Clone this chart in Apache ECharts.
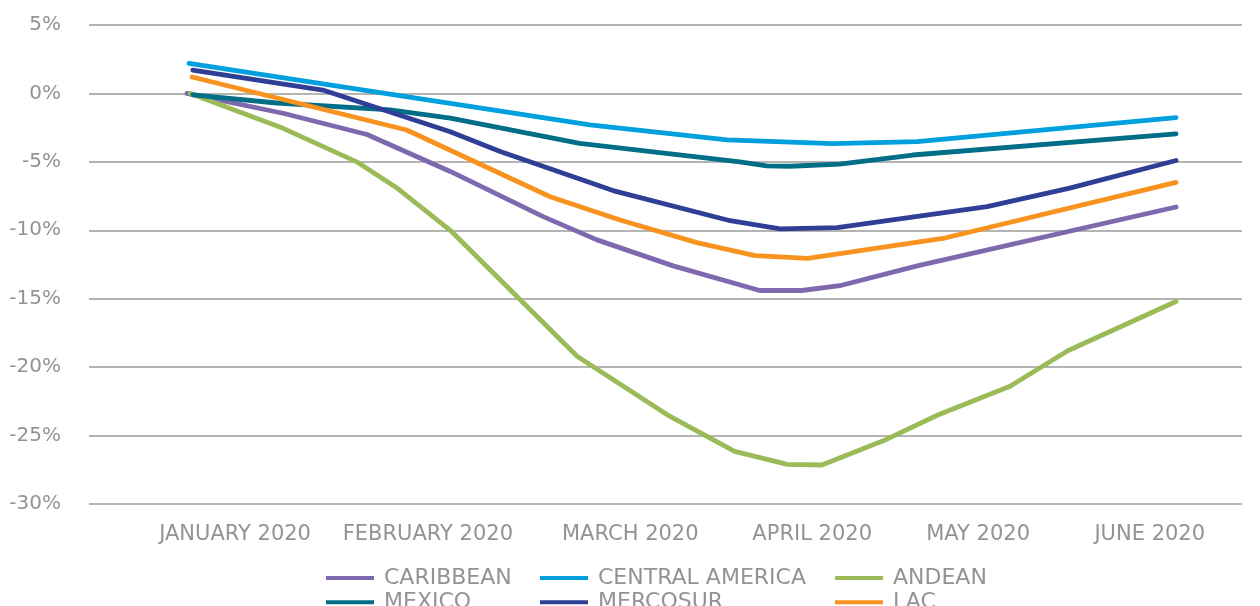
<!DOCTYPE html>
<html>
<head>
<meta charset="utf-8">
<script src="https://cdn.jsdelivr.net/npm/echarts@6/dist/echarts.min.js"></script>
<style>
  html, body { margin: 0; padding: 0; background: #fff; }
  #chart { width: 1260px; height: 606px; }
</style>
</head>
<body>
<div id="chart"></div>
<script>
// x = position along the period (day-of-year like scale), y = % change
const monthLabels = ['JANUARY 2020', 'FEBRUARY 2020', 'MARCH 2020', 'APRIL 2020', 'MAY 2020', 'JUNE 2020']
const monthTicks = [22.8, 52.9, 84.5, 112.9, 138.8, 165.6]
const yTicks = [-30, -25, -20, -15, -10, -5, 0, 5]

const caribbean = [[15.3, 0], [30.3, -1.45], [43.4, -3.0], [56.4, -5.7], [70.9, -9.0], [79.3, -10.7],
  [91.2, -12.6], [104.7, -14.4], [111.3, -14.4], [117.2, -14.05], [129.3, -12.6], [169.7, -8.3]]
const centralAmerica = [[15.6, 2.2], [56.4, -0.72], [78.2, -2.3], [99.6, -3.4], [116.1, -3.67],
  [129.3, -3.52], [169.7, -1.77]]
const andean = [[15.8, 0], [30.3, -2.55], [41.8, -5.0], [48.2, -6.95], [56.4, -10.0], [76.2, -19.2],
  [90.7, -23.6], [100.8, -26.15], [109.0, -27.1], [114.4, -27.15], [123.9, -25.4], [132.5, -23.5],
  [143.8, -21.4], [152.8, -18.8], [169.7, -15.2]]
const mexico = [[16.2, -0.1], [29.3, -0.7], [47.0, -1.2], [56.4, -1.8], [76.6, -3.65], [101.6, -5.0],
  [105.8, -5.3], [109.4, -5.32], [117.2, -5.17], [128.6, -4.5], [169.7, -2.96]]
const mercosur = [[16.2, 1.7], [36.5, 0.25], [56.4, -2.8], [64.2, -4.25], [81.8, -7.1], [100.1, -9.3],
  [107.9, -9.9], [116.8, -9.8], [140.2, -8.27], [153.1, -6.92], [169.7, -4.9]]
const lac = [[16.1, 1.2], [49.6, -2.67], [72.0, -7.55], [82.9, -9.25], [94.9, -10.9], [104.0, -11.85],
  [112.2, -12.05], [133.3, -10.6], [169.7, -6.5]]

const names = ['CARIBBEAN', 'CENTRAL AMERICA', 'ANDEAN', 'MEXICO', 'MERCOSUR', 'LAC']
const colors = ['#7E69AF', '#00A0DF', '#9BBB59', '#016E88', '#2F3F96', '#F7931E']
const values = [caribbean, centralAmerica, andean, mexico, mercosur, lac]

const font = 'DejaVu Sans'
const grey = '#939393'

// one legend per column so the two rows line up
function legendCol(left, items) {
  return {
    orient: 'vertical',
    left: left,
    top: 567,
    height: 60,
    padding: 0,
    icon: 'rect',
    itemWidth: 48,
    itemHeight: 4,
    itemGap: 2.3,
    data: items,
    textStyle: {fontFamily: font, fontSize: 22, color: grey, lineHeight: 20, padding: [0, 0, 0, 5]}
  }
}

const option = {
  animation: false,
  textStyle: {fontFamily: font},
  grid: {left: 89, right: 18, top: 25, bottom: 102, outerBoundsMode: 'none'},
  legend: [
    legendCol(326, ['CARIBBEAN', 'MEXICO']),
    legendCol(540, ['CENTRAL AMERICA', 'MERCOSUR']),
    legendCol(835, ['ANDEAN', 'LAC'])
  ],
  xAxis: {
    type: 'value',
    min: 0,
    max: 180,
    axisLine: {show: false},
    axisTick: {show: false},
    splitLine: {show: false},
    axisLabel: {
      customValues: monthTicks,
      margin: 20,
      fontFamily: font,
      fontSize: 21,
      color: grey,
      formatter: function (v) {
        let best = 0
        monthTicks.forEach((t, i) => { if (Math.abs(t - v) < Math.abs(monthTicks[best] - v)) best = i })
        return monthLabels[best]
      }
    }
  },
  yAxis: {
    type: 'value',
    min: yTicks[0],
    max: yTicks[yTicks.length - 1],
    interval: 5,
    axisLine: {show: false},
    axisTick: {show: false},
    splitLine: {lineStyle: {color: '#9b9b9b', width: 1.5}},
    axisLabel: {
      margin: 28,
      fontFamily: font,
      fontSize: 20,
      color: grey,
      formatter: v => v + '%'
    }
  },
  series: names.map((n, i) => ({
    name: n,
    type: 'line',
    data: values[i],
    symbol: 'none',
    color: colors[i],
    lineStyle: {width: 4.8, color: colors[i], cap: 'round', join: 'round'}
  }))
}

const chart = echarts.init(document.getElementById('chart'))
chart.setOption(option)
</script>
</body>
</html>
